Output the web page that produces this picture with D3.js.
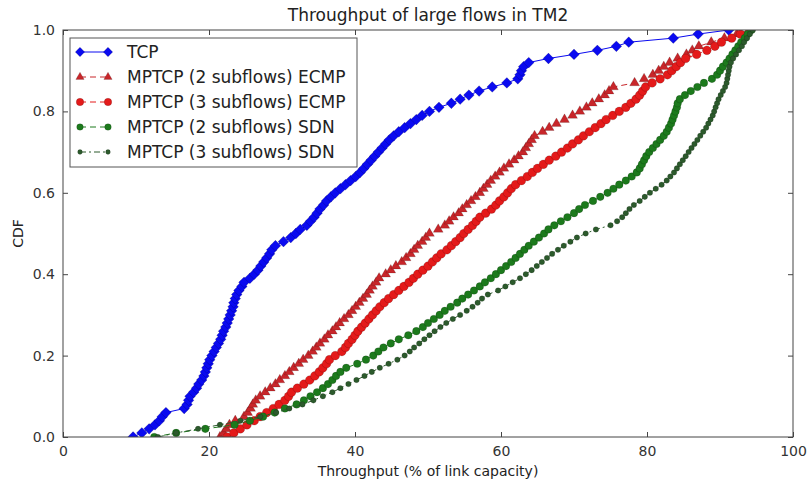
<!DOCTYPE html>
<html>
<head>
<meta charset="utf-8">
<script src="https://cdn.jsdelivr.net/npm/d3@7"></script>
<style>
  html, body { margin: 0; padding: 0; background: #fff; }
  svg { display: block; font-family: "DejaVu Sans", sans-serif; }
</style>
</head>
<body>
<svg id="chart" width="809" height="486"></svg>
<script>
// Sorted per-flow throughput (% of link capacity) for each scheme; CDF level of
// point i is i / (n - 1).
const tcp = [9.6, 10.8, 11.8, 12.6, 13.2, 13.6, 14.1, 16.6, 17.0, 17.2, 17.4, 17.9, 18.3, 18.6, 19.0, 19.3, 19.5, 19.7, 19.9, 20.1,
  20.4, 20.7, 21.0, 21.3, 21.6, 21.8, 22.0, 22.3, 22.5, 22.7, 22.9, 23.1, 23.3, 23.4, 23.6, 23.8, 24.1, 24.5, 24.8, 25.6,
  26.2, 26.7, 27.1, 27.5, 27.9, 28.3, 28.6, 29.1, 30.2, 31.2, 31.9, 32.5, 33.4, 33.9, 34.4, 34.8, 35.2, 35.7, 36.1, 36.7,
  37.3, 38.0, 38.7, 39.4, 40.1, 40.7, 41.2, 41.7, 42.2, 42.7, 43.2, 43.7, 44.2, 44.7, 45.3, 46.0, 46.8, 47.6, 48.4, 49.2,
  50.2, 51.5, 53.2, 54.4, 55.6, 57.0, 58.8, 60.8, 62.3, 62.6, 62.8, 63.1, 63.8, 66.5, 70.0, 73.2, 75.8, 77.5, 83.6, 87.0, 91.2];

const ecmp2 = [21.5, 22.0, 22.4, 22.8, 23.6, 24.8, 25.3, 25.7, 26.0, 26.4, 27.0, 27.7, 28.4, 29.1, 29.7, 30.4, 31.0, 31.6, 32.3, 32.9,
  33.6, 34.2, 34.7, 35.2, 35.8, 36.3, 36.9, 37.4, 37.9, 38.5, 39.1, 39.6, 40.1, 40.6, 41.1, 41.6, 42.0, 42.4, 42.9, 43.3,
  44.2, 44.9, 45.6, 46.4, 47.0, 47.6, 48.1, 48.6, 49.2, 49.7, 50.2, 51.4, 52.3, 52.9, 53.5, 54.2, 54.7, 55.3, 55.9, 56.5,
  57.1, 57.6, 58.1, 58.6, 59.2, 59.8, 60.4, 61.1, 61.8, 62.4, 63.0, 63.4, 63.8, 64.2, 64.6, 65.7, 66.6, 67.6, 68.7, 69.8,
  70.8, 71.7, 72.5, 73.4, 74.2, 74.8, 75.4, 78.3, 79.6, 80.8, 81.6, 82.3, 83.1, 84.2, 85.4, 86.2, 87.1, 88.8, 90.6, 92.3, 94.0];

const ecmp3 = [22.5, 23.4, 24.3, 25.2, 26.2, 27.0, 27.9, 28.8, 29.6, 30.4, 30.9, 31.3, 32.1, 33.0, 33.8, 34.5, 35.1, 35.6, 36.1, 36.5,
  37.3, 38.2, 38.7, 39.1, 39.6, 40.0, 40.4, 40.9, 41.4, 41.9, 42.4, 42.9, 43.4, 44.0, 44.6, 45.3, 46.0, 46.7, 47.4, 48.0,
  48.6, 49.3, 50.0, 50.6, 51.2, 51.8, 52.6, 53.2, 53.8, 54.4, 54.9, 55.5, 56.1, 56.6, 57.1, 57.9, 58.7, 59.3, 59.8, 60.4,
  60.9, 61.4, 62.0, 62.8, 63.6, 64.3, 65.0, 65.8, 66.6, 67.5, 68.3, 69.1, 69.8, 70.6, 71.3, 72.1, 72.9, 73.7, 74.4, 75.3,
  76.2, 77.1, 77.8, 78.5, 79.0, 79.4, 79.8, 80.7, 81.8, 82.8, 83.4, 84.0, 84.6, 85.3, 86.8, 88.2, 89.3, 90.2, 91.6, 92.8, 94.1];

const sdn2 = [12.5, 15.5, 19.5, 23.5, 25.6, 27.4, 29.0, 30.4, 32.0, 33.0, 33.9, 34.8, 35.6, 36.3, 36.9, 37.4, 38.0, 38.8, 40.3, 41.5,
  42.5, 43.2, 43.9, 44.9, 46.0, 47.3, 48.4, 49.3, 50.0, 50.8, 51.6, 52.3, 53.1, 54.0, 54.7, 55.5, 56.3, 57.1, 57.8, 58.6,
  59.3, 60.0, 60.7, 61.4, 62.0, 62.6, 63.2, 63.8, 64.5, 65.2, 65.9, 66.5, 67.3, 68.2, 69.1, 70.0, 70.7, 71.5, 72.6, 73.6,
  74.6, 75.4, 76.2, 77.1, 77.9, 78.6, 79.0, 79.3, 79.6, 79.9, 80.3, 80.8, 81.3, 81.8, 82.3, 82.7, 83.0, 83.3, 83.5, 83.7,
  83.9, 84.1, 84.2, 84.5, 85.2, 86.0, 86.9, 87.8, 88.9, 89.6, 90.0, 90.4, 90.9, 91.3, 91.7, 92.1, 92.5, 92.9, 93.4, 93.8, 94.3];

const sdn3 = [13.0, 15.5, 18.5, 21.5, 24.3, 27.0, 29.2, 31.0, 32.8, 34.3, 35.6, 36.9, 38.0, 39.1, 40.2, 41.3, 42.3, 43.4, 44.6, 45.8,
  46.8, 47.5, 48.1, 48.8, 49.5, 50.2, 50.9, 51.7, 52.5, 53.4, 54.4, 55.3, 56.1, 56.8, 57.4, 58.2, 59.6, 60.6, 61.6, 62.6,
  63.4, 64.2, 64.9, 65.6, 66.3, 67.0, 67.8, 68.6, 69.5, 70.4, 71.6, 73.0, 75.0, 75.9, 76.6, 77.1, 77.6, 78.2, 79.0, 79.7,
  80.4, 81.2, 82.0, 82.7, 83.2, 83.7, 84.1, 84.5, 84.9, 85.3, 85.7, 86.1, 86.5, 86.9, 87.3, 87.7, 88.1, 88.4, 88.7, 89.0,
  89.2, 89.4, 89.6, 89.8, 90.1, 90.4, 90.7, 90.9, 91.0, 91.1, 91.2, 91.3, 91.5, 91.8, 92.2, 92.6, 93.0, 93.3, 93.7, 94.1, 94.5];

const seriesNames = ["TCP", "MPTCP (2 subflows) ECMP", "MPTCP (3 subflows) ECMP",
                     "MPTCP (2 subflows) SDN", "MPTCP (3 subflows) SDN"];
const xTicks = [0, 20, 40, 60, 80, 100];
const yTicks = [0.0, 0.2, 0.4, 0.6, 0.8, 1.0];
const titleText = "Throughput of large flows in TM2";
const xLabel = "Throughput (% of link capacity)";
const yLabel = "CDF";

// Drawing style for each series, in legend order.
const styles = [
  { values: tcp,   color: "#0a0af0", shape: "diamond",  size: 58, legendSize: 44, dash: null },
  { values: ecmp2, color: "#c8262a", shape: "triangle", size: 42, legendSize: 30, dash: "6,4" },
  { values: ecmp3, color: "#e41a1a", shape: "circle",   size: 60, legendSize: 44, dash: "6,4" },
  { values: sdn2,  color: "#1c7a1c", shape: "circle",   size: 46, legendSize: 34, dash: "6,4" },
  { values: sdn3,  color: "#2c5a2c", shape: "circle",   size: 24, legendSize: 18, dash: "6,3,2,3" }
];

const svg = d3.select("#chart");
const margin = { left: 63, top: 30, right: 16, bottom: 49 };
const W = 809 - margin.left - margin.right;
const H = 486 - margin.top - margin.bottom;

const x = d3.scaleLinear().domain([0, 100]).range([0, W]);
const y = d3.scaleLinear().domain([0, 1]).range([H, 0]);

const g = svg.append("g").attr("transform", `translate(${margin.left},${margin.top})`);

g.append("clipPath").attr("id", "plotClip")
  .append("rect").attr("width", W).attr("height", H);

function symbolPath(shape, size) {
  if (shape === "diamond") return d3.symbol(d3.symbolSquare, size)();
  if (shape === "triangle") return d3.symbol(d3.symbolTriangle, size)();
  return d3.symbol(d3.symbolCircle, size)();
}

const line = d3.line().x(d => x(d[0])).y(d => y(d[1]));
const plot = g.append("g").attr("clip-path", "url(#plotClip)");

styles.forEach(s => {
  const n = s.values.length;
  const pts = s.values.map((v, i) => [v, i / (n - 1)]);
  const sg = plot.append("g");
  sg.append("path").datum(pts)
    .attr("d", line)
    .attr("fill", "none")
    .attr("stroke", s.color)
    .attr("stroke-width", 1)
    .attr("stroke-dasharray", s.dash);
  const p = symbolPath(s.shape, s.size);
  sg.selectAll("path.m").data(pts).join("path")
    .attr("class", "m")
    .attr("d", p)
    .attr("transform", d => `translate(${x(d[0])},${y(d[1])})` + (s.shape === "diamond" ? " rotate(45)" : ""))
    .attr("fill", s.color)
    .attr("stroke", "#000")
    .attr("stroke-opacity", 0.3)
    .attr("stroke-width", 0.5);
});

// Axes: inward ticks on all four sides, labels on bottom and left only.
const axisColor = "#444";
const tickLen = 5;
const xAxis = g.append("g").attr("transform", `translate(0,${H})`)
  .call(d3.axisBottom(x).tickValues(xTicks).tickSizeInner(-tickLen).tickSizeOuter(0).tickPadding(9).tickFormat(d3.format("d")));
const yAxis = g.append("g")
  .call(d3.axisLeft(y).tickValues(yTicks).tickSizeInner(-tickLen).tickSizeOuter(0).tickPadding(8).tickFormat(d3.format(".1f")));
const xTop = g.append("g")
  .call(d3.axisTop(x).tickValues(xTicks).tickSizeInner(-tickLen).tickSizeOuter(0).tickFormat(""));
const yRight = g.append("g").attr("transform", `translate(${W},0)`)
  .call(d3.axisRight(y).tickValues(yTicks).tickSizeInner(-tickLen).tickSizeOuter(0).tickFormat(""));

[xAxis, yAxis, xTop, yRight].forEach(a => {
  a.select(".domain").remove();
  a.selectAll("line").attr("stroke", axisColor);
  a.selectAll("text").attr("fill", "#333").style("font-size", "14px").style("font-family", "DejaVu Sans, sans-serif");
});

g.append("rect").attr("width", W).attr("height", H)
  .attr("fill", "none").attr("stroke", axisColor).attr("stroke-width", 1);

// Title and axis labels
svg.append("text").attr("x", margin.left + W / 2).attr("y", 21)
  .attr("text-anchor", "middle").attr("fill", "#222")
  .style("font-size", "17px").text(titleText);
svg.append("text").attr("x", margin.left + W / 2).attr("y", 476)
  .attr("text-anchor", "middle").attr("fill", "#222")
  .style("font-size", "14px").text(xLabel);
svg.append("text").attr("transform", `translate(23,${margin.top + H / 2}) rotate(-90)`)
  .attr("text-anchor", "middle").attr("fill", "#222")
  .style("font-size", "14px").text(yLabel);

// Legend
const lg = svg.append("g").attr("transform", "translate(70,38)");
lg.append("rect").attr("width", 287).attr("height", 129)
  .attr("fill", "#fff").attr("stroke", "#555").attr("stroke-width", 1);
styles.forEach((s, i) => {
  const row = lg.append("g").attr("transform", `translate(0,${14 + i * 25})`);
  row.append("line").attr("x1", 10).attr("x2", 38).attr("y1", 0).attr("y2", 0)
    .attr("stroke", s.color).attr("stroke-width", 1).attr("stroke-dasharray", s.dash);
  [10, 38].forEach(cx => {
    row.append("path").attr("d", symbolPath(s.shape, s.legendSize))
      .attr("transform", `translate(${cx},0)` + (s.shape === "diamond" ? " rotate(45)" : ""))
      .attr("fill", s.color).attr("stroke", "#000").attr("stroke-opacity", 0.3).attr("stroke-width", 0.5);
  });
  row.append("text").attr("x", 57).attr("y", 0).attr("dy", "0.36em")
    .attr("fill", "#222").style("font-size", "17px").text(seriesNames[i]);
});
</script>
</body>
</html>
